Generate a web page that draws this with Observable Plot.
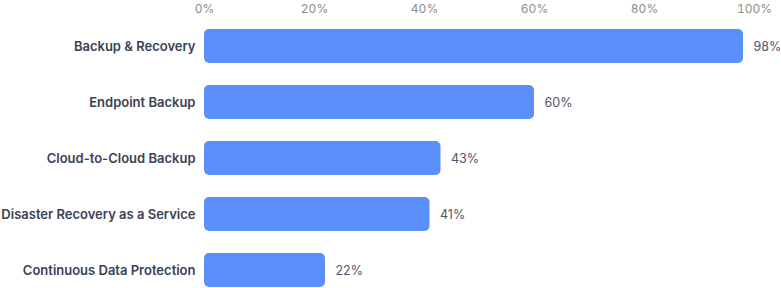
<!DOCTYPE html>
<html>
<head>
<meta charset="utf-8">
<script src="https://cdn.jsdelivr.net/npm/d3@7"></script>
<script src="https://cdn.jsdelivr.net/npm/@observablehq/plot@0.6"></script>
<style>
  html, body { margin: 0; padding: 0; background: #fff; }
  #chart svg { display: block; }
</style>
</head>
<body>
<div id="chart"></div>
<script>
const categories = [
  "Backup & Recovery",
  "Endpoint Backup",
  "Cloud-to-Cloud Backup",
  "Disaster Recovery as a Service",
  "Continuous Data Protection"
];
const values = [98, 60, 43, 41, 22];
const xTicks = [0, 20, 40, 60, 80, 100];

const data = categories.map((c, i) => ({category: c, value: values[i]}));

const chart = Plot.plot({
  width: 781,
  height: 288,
  marginLeft: 204,
  marginRight: 27,
  marginTop: 29,
  marginBottom: 1,
  style: {fontFamily: "Inter, 'Noto Sans', sans-serif", fontSize: "12px", background: "#fff"},
  x: {domain: [0, 100]},
  y: {domain: categories, padding: 0.393, paddingOuter: 0},
  marks: [
    Plot.axisX({
      anchor: "top",
      ticks: xTicks,
      tickSize: 0,
      tickPadding: 17,
      tickFormat: d => d + "%",
      fill: "#8c8c8c",
      fontSize: 12,
      label: null
    }),
    Plot.axisY({
      anchor: "left",
      tickSize: 0,
      tickPadding: 9,
      fill: "#3a4254",
      fontSize: 13,
      fontWeight: 600,
      label: null
    }),
    Plot.barX(data, {y: "category", x: "value", fill: "#5B8FF9", rx: 5}),
    Plot.text(data, {
      y: "category",
      x: "value",
      text: d => d.value + "%",
      textAnchor: "start",
      dx: 10,
      fill: "#4f5563",
      fontSize: 12.5
    })
  ]
});
document.getElementById("chart").appendChild(chart);
</script>
</body>
</html>
